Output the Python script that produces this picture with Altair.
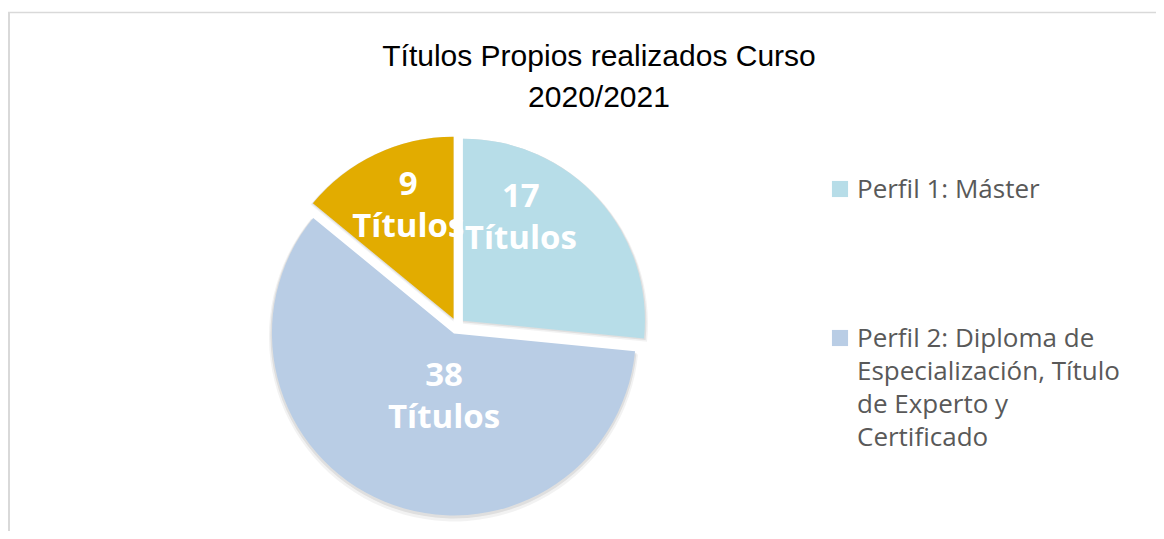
import altair as alt
import pandas as pd

# ---------------- data ----------------
categories = [
    "Perfil 1: Máster",
    "Perfil 2: Diploma de Especialización, Título de Experto y Certificado",
    "Perfil 3",
]
values = [17, 38, 9]
slice_colors = ["#B7DDE8", "#B9CDE5", "#E2AC00"]
unit_label = "Títulos"
legend_categories = categories[:2]
legend_labels = [
    "Perfil 1: Máster",
    "Perfil 2: Diploma de\nEspecialización, Título\nde Experto y\nCertificado",
]
title_lines = ["Títulos Propios realizados Curso", "2020/2021"]

# ---------------- layout / style ----------------
W, H = 1148, 523
CX, CY, R, EXPLODE = 449, 318, 182, 8
LABEL_R = 120
label_nudge = {categories[0]: (-31, -43), categories[1]: (36, -68), categories[2]: (6, -25)}

pie_df = pd.DataFrame({"cat": categories, "value": values, "order": list(range(len(values)))})
color_scale = alt.Scale(domain=categories, range=slice_colors)

base = (
    alt.Chart(pie_df)
    .transform_joinaggregate(total="sum(value)")
    .transform_window(cum="sum(value)", sort=[alt.SortField("order")], frame=[None, 0])
    .transform_calculate(
        t0="2*PI*(datum.cum-datum.value)/datum.total",
        t1="2*PI*datum.cum/datum.total",
    )
    .transform_calculate(mid="(datum.t0+datum.t1)/2")
    .transform_calculate(
        cx=f"{CX}+{EXPLODE}*sin(datum.mid)",
        cy=f"{CY}-{EXPLODE}*cos(datum.mid)",
        lbl=f"datum.value + '\\n{unit_label}'",
    )
)

shadow_outer = base.transform_calculate(sy="datum.cy+3").mark_arc(
    radius=R + 3, color="#000000", opacity=0.05
).encode(
    x=alt.X("cx:Q", scale=None),
    y=alt.Y("sy:Q", scale=None),
    theta=alt.Theta("t0:Q", scale=None),
    theta2=alt.Theta2("t1:Q"),
)
shadow_inner = base.transform_calculate(sy="datum.cy+1.5").mark_arc(
    radius=R + 1.5, color="#000000", opacity=0.08
).encode(
    x=alt.X("cx:Q", scale=None),
    y=alt.Y("sy:Q", scale=None),
    theta=alt.Theta("t0:Q", scale=None),
    theta2=alt.Theta2("t1:Q"),
)

arcs = base.mark_arc(radius=R).encode(
    x=alt.X("cx:Q", scale=None),
    y=alt.Y("cy:Q", scale=None),
    theta=alt.Theta("t0:Q", scale=None),
    theta2=alt.Theta2("t1:Q"),
    color=alt.Color("cat:N", scale=color_scale, legend=None),
)

labels = []
for c, (dx, dy) in label_nudge.items():
    labels.append(
        base.transform_filter(alt.datum.cat == c)
        .mark_text(
            radius=LABEL_R, dx=dx, dy=dy, font="Open Sans", fontWeight="bold",
            fontSize=33, color="white", lineBreak="\n", lineHeight=42,
            baseline="middle", align="center",
        )
        .encode(
            x=alt.X("cx:Q", scale=None),
            y=alt.Y("cy:Q", scale=None),
            theta=alt.Theta("mid:Q", scale=None),
            text="lbl:N",
        )
    )

title_df = pd.DataFrame({"t": ["\n".join(title_lines)]})
title = alt.Chart(title_df).mark_text(
    font="Liberation Sans", fontSize=30, lineBreak="\n", lineHeight=41,
    align="center", baseline="middle", color="#000000",
).encode(x=alt.value(591), y=alt.value(49), text="t:N")

leg_df = pd.DataFrame({"cat": legend_categories, "label": legend_labels, "idx": [0, 1]})
leg_base = alt.Chart(leg_df).transform_calculate(ly="181 + datum.idx*149")
leg_sym = leg_base.mark_square(size=260, opacity=1).encode(
    x=alt.value(832),
    y=alt.Y("ly:Q", scale=None),
    color=alt.Color("cat:N", scale=color_scale, legend=None),
)
leg_txt = leg_base.mark_text(
    align="left", baseline="alphabetic", dy=9, font="Open Sans", fontSize=26,
    lineBreak="\n", lineHeight=33, color="#595959",
).encode(x=alt.value(849), y=alt.Y("ly:Q", scale=None), text="label:N")

frame_df = pd.DataFrame({"d": [0]})
top_rule = alt.Chart(frame_df).mark_rule(color="#D9D9D9", strokeWidth=1.5).encode(
    x=alt.value(0), x2=alt.value(W), y=alt.value(4.5)
)
left_rule = alt.Chart(frame_df).mark_rule(color="#D9D9D9", strokeWidth=2).encode(
    x=alt.value(1), y=alt.value(4), y2=alt.value(H)
)

chart = (
    alt.layer(top_rule, left_rule, title, shadow_outer, shadow_inner, arcs, *labels, leg_sym, leg_txt)
    .properties(width=W, height=H, padding=0, autosize="none", background="white")
    .configure_view(strokeWidth=0)
)

chart.save("out.html", embed_options={"renderer": "svg", "actions": False})
